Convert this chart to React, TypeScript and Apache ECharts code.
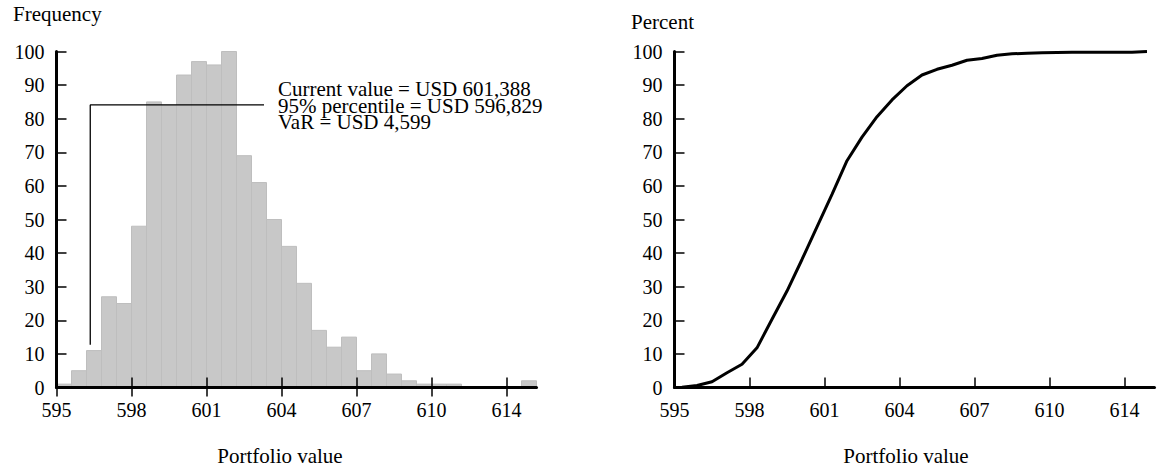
import React, { useEffect, useRef } from "react";
import * as echarts from "echarts";

// ---- data ----
const binStarts = [
  595.0, 595.6, 596.2, 596.8, 597.4, 598.0, 598.6, 599.2, 599.8, 600.4, 601.0,
  601.6, 602.2, 602.8, 603.4, 604.0, 604.6, 605.2, 605.8, 606.4, 607.0, 607.6,
  608.2, 608.8, 609.4, 610.0, 610.6, 611.2, 611.8, 612.4, 613.0, 613.6,
];
const binWidth = 0.6;
const frequencies = [
  1, 5, 11, 27, 25, 48, 85, 84, 93, 97, 96, 100, 69, 61, 50, 42, 31, 17, 12, 15,
  5, 10, 4, 2, 1, 1, 1, 0, 0, 0, 0, 2,
];
const cdfX = [
  595.3, 595.9, 596.5, 597.1, 597.7, 598.3, 598.9, 599.5, 600.1, 600.7, 601.3,
  601.9, 602.5, 603.1, 603.7, 604.3, 604.9, 605.5, 606.1, 606.7, 607.3, 607.9,
  608.5, 609.1, 609.7, 610.3, 610.9, 611.5, 612.1, 612.7, 613.3, 613.9,
];
const cdfPercent = [
  0.1, 0.6, 1.7, 4.4, 6.9, 11.8, 20.3, 28.7, 38.1, 47.8, 57.5, 67.5, 74.5, 80.6,
  85.6, 89.8, 93.0, 94.7, 95.9, 97.4, 97.9, 98.9, 99.3, 99.5, 99.6, 99.7, 99.8,
  99.8, 99.8, 99.8, 99.8, 100,
];
const xTickValues = [595, 598, 601, 604, 607, 610, 613];
const xTickLabels = ["595", "598", "601", "604", "607", "610", "614"];
const xMin = 595;
const xMax = 614.2;
const varLineX = [596.35, 596.35, 603.3];
const varLineY = [12.7, 84.1, 84.1];
const annotationLines = [
  "Current value = USD 601,388",
  "95% percentile = USD 596,829",
  "VaR = USD 4,599",
];

const FONT = "Liberation Serif, Times New Roman, serif";

const xLabelFmt = (v: number) => {
  const i = xTickValues.indexOf(Math.round(v));
  return i >= 0 && Math.abs(v - xTickValues[i]) < 0.01 ? xTickLabels[i] : "";
};

const tickStyle = { color: "#000", width: 1.5 };
const axisLineStyle = { color: "#000", width: 3 };
const labelStyle = { fontSize: 20, fontFamily: FONT, color: "#000", margin: 12 };

function mainX(gridIndex: number): any {
  return {
    type: "value",
    gridIndex,
    min: xMin,
    max: xMax,
    interval: 3,
    z: 5,
    axisLine: { show: true, onZero: false, lineStyle: axisLineStyle },
    axisTick: { show: true, inside: true, length: 10, lineStyle: tickStyle, customValues: xTickValues },
    axisLabel: { ...labelStyle, formatter: xLabelFmt, customValues: xTickValues },
    splitLine: { show: false },
  };
}

function mainY(gridIndex: number): any {
  return {
    type: "value",
    gridIndex,
    min: 0,
    max: 100,
    interval: 10,
    z: 5,
    axisLine: { show: true, onZero: false, lineStyle: axisLineStyle },
    axisTick: { show: true, inside: true, length: 10, lineStyle: tickStyle },
    axisLabel: { ...labelStyle },
    splitLine: { show: false },
  };
}

export default function App() {
  const ref = useRef<HTMLDivElement>(null);
  useEffect(() => {
    if (!ref.current) return;
    const chart = echarts.init(ref.current, null, { renderer: "svg" });
    const textStyle = (text: string, size: number, align = "left") => ({
      text,
      fontSize: size,
      fontFamily: FONT,
      fill: "#000",
      align,
      verticalAlign: "middle",
    });
    chart.setOption({
      animation: false,
      backgroundColor: "#fff",
      grid: [
        { left: 56.5, top: 51.5, width: 480, height: 336 },
        { left: 674.5, top: 51.5, width: 480, height: 336 },
      ],
      xAxis: [
        mainX(0),
        {
          type: "value",
          gridIndex: 0,
          position: "bottom",
          min: xMin,
          max: xMax,
          interval: 3,
          z: 5,
          axisLine: { show: false, onZero: false },
          axisTick: { show: true, inside: false, length: 9, lineStyle: tickStyle, customValues: xTickValues },
          axisLabel: { show: false },
          splitLine: { show: false },
        },
        mainX(1),
      ],
      yAxis: [mainY(0), mainY(1)],
      series: [
        {
          type: "custom",
          xAxisIndex: 0,
          yAxisIndex: 0,
          z: 2,
          data: binStarts.map((s, i) => [s, frequencies[i]]),
          renderItem: (_params: any, api: any) => {
            const x0 = api.value(0);
            const y = api.value(1);
            if (!y) return { type: "group", children: [] };
            const p0 = api.coord([x0, y]);
            const p1 = api.coord([x0 + binWidth, 0]);
            return {
              type: "rect",
              shape: { x: p0[0], y: p0[1], width: p1[0] - p0[0], height: p1[1] - p0[1] },
              style: { fill: "#c8c8c8", stroke: "#bebebe", lineWidth: 1 },
            };
          },
        },
        {
          type: "line",
          xAxisIndex: 0,
          yAxisIndex: 0,
          z: 4,
          symbol: "none",
          data: varLineX.map((x, i) => [x, varLineY[i]]),
          lineStyle: { color: "#000", width: 1.3 },
        },
        {
          type: "line",
          xAxisIndex: 2,
          yAxisIndex: 1,
          z: 4,
          symbol: "none",
          clip: false,
          data: cdfX.map((x, i) => [x, cdfPercent[i]]),
          lineStyle: { color: "#000", width: 3 },
        },
      ],
      graphic: [
        { type: "text", x: 13, y: 14, style: textStyle("Frequency", 21) },
        { type: "text", x: 631, y: 22, style: textStyle("Percent", 21) },
        { type: "text", x: 280, y: 456, style: textStyle("Portfolio value", 21, "center") },
        { type: "text", x: 906, y: 456, style: textStyle("Portfolio value", 21, "center") },
        {
          type: "text",
          x: 278,
          y: 80.75,
          style: {
            ...textStyle(annotationLines.join("\n"), 21),
            verticalAlign: "top",
            lineHeight: 16.5,
          },
        },
      ],
    });
    return () => chart.dispose();
  }, []);
  return (
    <div
      ref={ref}
      style={{ position: "absolute", left: 0, top: 0, width: 1157, height: 469, background: "#fff" }}
    />
  );
}
